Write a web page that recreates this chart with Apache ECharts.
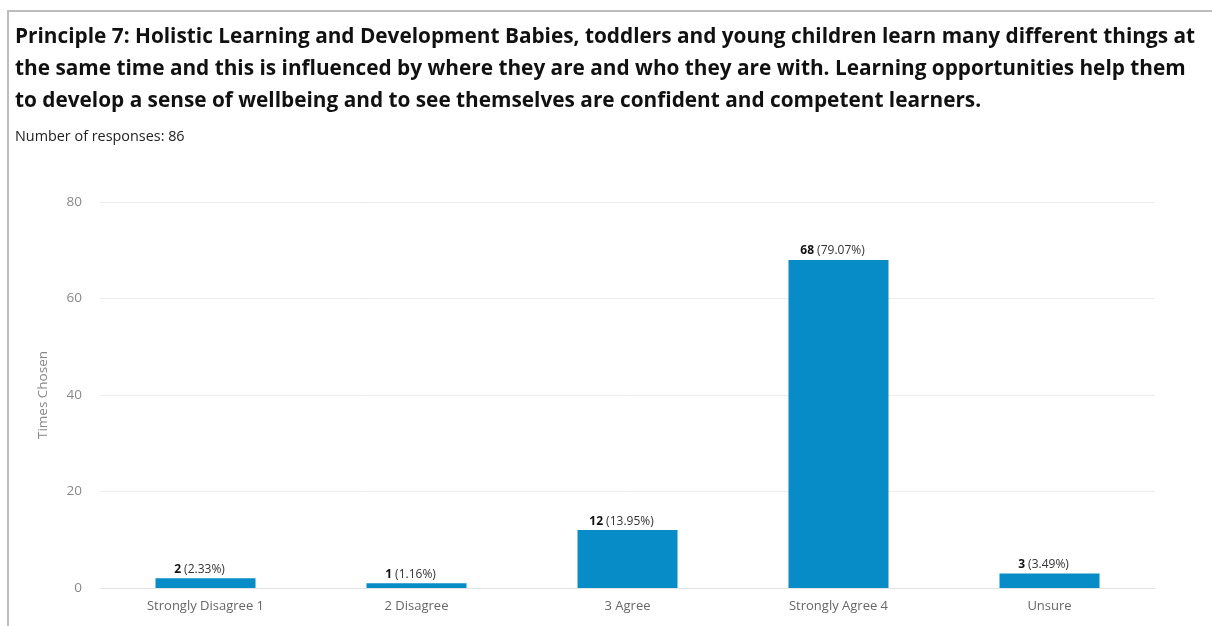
<!DOCTYPE html>
<html>
<head>
<meta charset="utf-8">
<script src="https://cdn.jsdelivr.net/npm/echarts@6/dist/echarts.min.js"></script>
<style>
  html, body { margin: 0; padding: 0; background: #fff; }
  #chart { width: 1212px; height: 626px; }
</style>
</head>
<body>
<div id="chart"></div>
<script>
// Survey answers and how many times each was chosen
const categories = ['Strongly Disagree 1', '2 Disagree', '3 Agree', 'Strongly Agree 4', 'Unsure'];
const counts = [2, 1, 12, 68, 3];
const percents = ['2.33%', '1.16%', '13.95%', '79.07%', '3.49%'];
const yTicks = [0, 20, 40, 60, 80];

const titleLines = [
  'Principle 7: Holistic Learning and Development Babies, toddlers and young children learn many different things at',
  'the same time and this is influenced by where they are and who they are with. Learning opportunities help them',
  'to develop a sense of wellbeing and to see themselves are confident and competent learners.'
];
const subtitle = 'Number of responses: 86';

const FONT = '"Open Sans", "Noto Sans", sans-serif';
const chart = echarts.init(document.getElementById('chart'));

chart.setOption({
  animation: false,
  textStyle: { fontFamily: FONT },
  title: [{
    text: titleLines.join('\n'),
    left: 10,
    top: 16,
    textStyle: { fontFamily: FONT, fontWeight: 'bold', fontSize: 20.8, color: '#111', lineHeight: 32 }
  }, {
    text: subtitle,
    left: 10,
    top: 125,
    textStyle: { fontFamily: FONT, fontWeight: 'normal', fontSize: 14.4, color: '#222' }
  }],
  graphic: [
    { type: 'line', shape: { x1: 7, y1: 11, x2: 1212, y2: 11 }, style: { stroke: '#bdbdbd', lineWidth: 2 } },
    { type: 'line', shape: { x1: 8, y1: 10, x2: 8, y2: 626 }, style: { stroke: '#bdbdbd', lineWidth: 2 } }
  ],
  grid: { left: 100, right: 57, top: 202, bottom: 38 },
  xAxis: {
    type: 'category',
    data: categories,
    axisLine: { lineStyle: { color: '#e3e3e3', width: 1 } },
    axisTick: { show: false },
    axisLabel: { color: '#666', fontSize: 13, margin: 12, fontFamily: FONT }
  },
  yAxis: {
    type: 'value',
    min: yTicks[0],
    max: yTicks[yTicks.length - 1],
    interval: 20,
    name: 'Times Chosen',
    nameLocation: 'middle',
    nameGap: 50,
    nameTextStyle: { color: '#888', fontSize: 13.5, fontFamily: FONT },
    axisLine: { show: false },
    axisTick: { show: false },
    axisLabel: { color: '#888', fontSize: 13.5, margin: 18, fontFamily: FONT },
    splitLine: { lineStyle: { color: '#ececec', width: 1 } }
  },
  series: [{
    type: 'bar',
    data: counts,
    barWidth: 100,
    itemStyle: { color: '#078cc8' },
    label: {
      show: true,
      position: 'top',
      distance: 3,
      offset: [-6, 0],
      formatter: p => '{b|' + p.value + '} {n|(' + percents[p.dataIndex] + ')}',
      rich: {
        b: { fontWeight: 'bold', fontSize: 12, color: '#111', fontFamily: FONT },
        n: { fontSize: 12, color: '#333', fontFamily: FONT }
      }
    }
  }]
});
</script>
</body>
</html>
